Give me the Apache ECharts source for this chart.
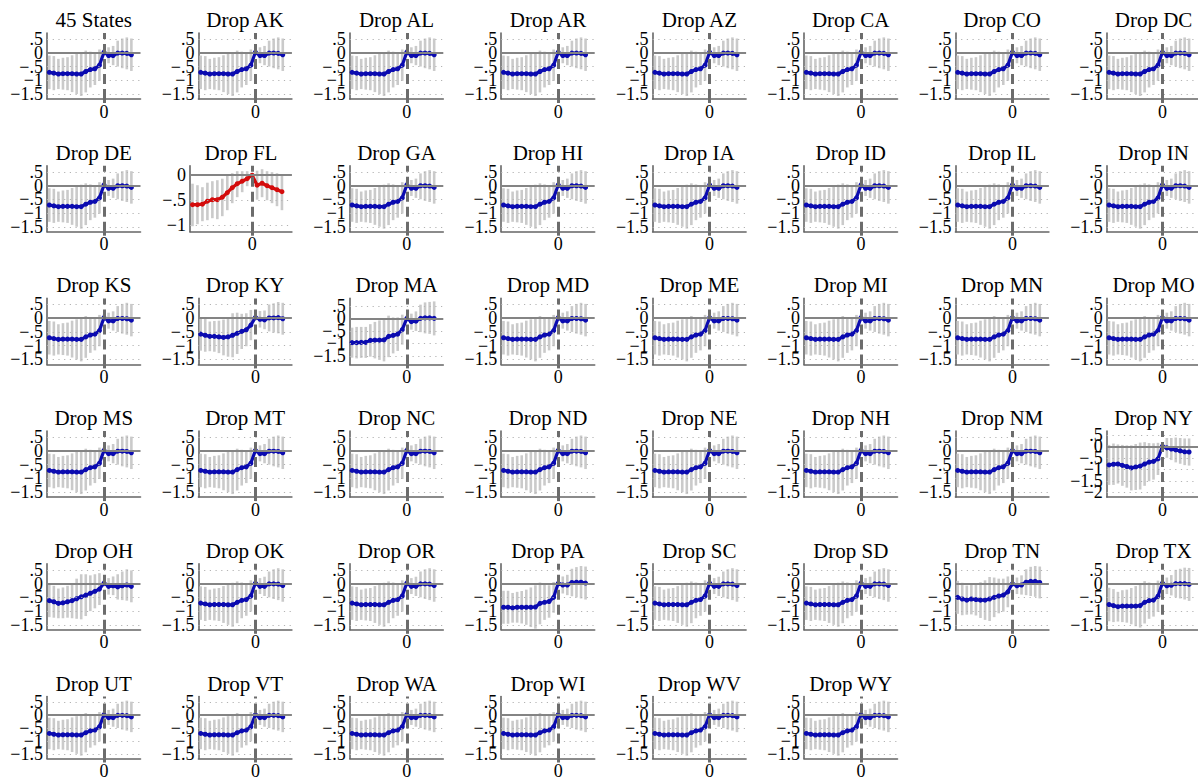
<!DOCTYPE html>
<html>
<head>
<meta charset="utf-8">
<script src="https://cdn.jsdelivr.net/npm/echarts@6/dist/echarts.min.js"></script>
<style>
  html, body { margin: 0; padding: 0; background: #fff; }
  #chart { width: 1198px; height: 780px; }
</style>
</head>
<body>
<div id="chart"></div>
<script>
// Event time (years relative to the policy change)
const eventTime = [-12, -11, -10, -9, -8, -7, -6, -5, -4, -3, -2, -1, 0, 1, 2, 3, 4, 5, 6];

// Panel order: pooled sample first, then leave-one-state-out estimates
const droppedStates = ['AK','AL','AR','AZ','CA','CO','DC','DE','FL','GA','HI','IA','ID','IL','IN',
  'KS','KY','MA','MD','ME','MI','MN','MO','MS','MT','NC','ND','NE','NH','NM','NY',
  'OH','OK','OR','PA','SC','SD','TN','TX','UT','VT','WA','WI','WV','WY'];

// Tick labels on the y axis
const yTicksStd = [-1.5, -1, -0.5, 0, 0.5];
const yTicksFL  = [-1, -0.5, 0];
const yTicksNY  = [-2, -1.5, -1, -0.5, 0, 0.5];
const xTicks    = [0];

// Pooled estimates (also what most leave-one-out samples look like)
const pooledEst = [-0.71, -0.74, -0.77, -0.76, -0.76, -0.76, -0.77, -0.77, -0.68, -0.61, -0.58, -0.45, 0.02, -0.10, -0.10, -0.01, -0.01, -0.02, -0.07];
const pooledLo  = [-1.32, -1.36, -1.32, -1.34, -1.36, -1.43, -1.50, -1.57, -1.44, -1.26, -1.17, -1.02, -0.10, -0.38, -0.45, -0.50, -0.56, -0.60, -0.66];
const pooledHi  = [-0.10, -0.12, -0.22, -0.18, -0.16, -0.09, -0.04, 0.03, 0.08, 0.04, 0.01, 0.12, 0.14, 0.20, 0.25, 0.44, 0.52, 0.56, 0.52];

// Drop FL
const flEst = [-0.59, -0.59, -0.58, -0.52, -0.49, -0.49, -0.44, -0.35, -0.25, -0.17, -0.12, -0.07, 0.00, -0.20, -0.16, -0.21, -0.25, -0.29, -0.33];
const flLo  = [-1.02, -0.98, -0.92, -0.90, -0.86, -0.88, -0.82, -0.70, -0.56, -0.44, -0.34, -0.22, -0.04, -0.49, -0.44, -0.50, -0.56, -0.62, -0.70];
const flHi  = [-0.17, -0.20, -0.24, -0.15, -0.12, -0.10, -0.07, 0.00, 0.04, 0.08, 0.08, 0.08, 0.04, 0.09, 0.12, 0.08, 0.06, 0.04, 0.02];

// Drop NY
const nyEst = [-0.81, -0.78, -0.77, -0.83, -0.88, -0.94, -0.90, -0.86, -0.77, -0.69, -0.66, -0.55, 0.00, -0.07, -0.12, -0.16, -0.20, -0.24, -0.25];
const nyLo  = [-1.68, -1.68, -1.62, -1.72, -1.80, -1.92, -1.90, -1.88, -1.72, -1.52, -1.45, -1.25, -0.12, -0.50, -0.60, -0.70, -0.76, -0.82, -0.84];
const nyHi  = [0.06, 0.12, 0.08, 0.06, 0.04, 0.04, 0.10, 0.16, 0.18, 0.14, 0.13, 0.15, 0.12, 0.36, 0.36, 0.38, 0.36, 0.34, 0.34];

// Drop MA
const maEst = [-0.97, -0.97, -0.96, -0.96, -0.88, -0.87, -0.87, -0.86, -0.72, -0.68, -0.63, -0.45, 0.00, -0.13, -0.11, 0.00, 0.02, 0.02, 0.00];
const maLo  = [-1.57, -1.60, -1.58, -1.58, -1.53, -1.60, -1.66, -1.72, -1.55, -1.40, -1.30, -1.05, -0.12, -0.45, -0.50, -0.55, -0.60, -0.62, -0.68];
const maHi  = [-0.37, -0.34, -0.34, -0.34, -0.23, -0.14, -0.08, 0.00, 0.11, 0.04, 0.04, 0.15, 0.12, 0.19, 0.28, 0.55, 0.64, 0.66, 0.68];

// Drop KY
const kyEst = [-0.58, -0.62, -0.66, -0.66, -0.68, -0.70, -0.68, -0.62, -0.55, -0.48, -0.42, -0.25, 0.03, -0.04, -0.06, 0.01, 0.01, 0.02, -0.02];
const kyLo  = [-1.18, -1.22, -1.20, -1.22, -1.27, -1.35, -1.40, -1.42, -1.30, -1.12, -1.02, -0.80, -0.08, -0.34, -0.40, -0.48, -0.52, -0.55, -0.60];
const kyHi  = [0.02, -0.02, -0.12, -0.10, -0.09, -0.05, 0.04, 0.18, 0.20, 0.16, 0.18, 0.30, 0.14, 0.26, 0.28, 0.50, 0.54, 0.59, 0.56];

// Drop OH
const ohEst = [-0.62, -0.66, -0.72, -0.70, -0.66, -0.62, -0.55, -0.48, -0.42, -0.35, -0.28, -0.20, 0.02, -0.10, -0.08, -0.12, -0.08, -0.05, -0.10];
const ohLo  = [-1.22, -1.24, -1.26, -1.26, -1.24, -1.26, -1.28, -1.30, -1.18, -1.00, -0.90, -0.78, -0.10, -0.40, -0.42, -0.58, -0.60, -0.62, -0.68];
const ohHi  = [-0.02, -0.08, -0.18, -0.14, -0.08, 0.02, 0.18, 0.34, 0.34, 0.30, 0.34, 0.38, 0.14, 0.20, 0.26, 0.34, 0.44, 0.52, 0.48];

// Drop PA
const paEst = [-0.86, -0.86, -0.88, -0.86, -0.86, -0.86, -0.86, -0.85, -0.72, -0.68, -0.65, -0.50, 0.01, -0.05, -0.05, 0.04, 0.05, 0.05, 0.02];
const paLo  = [-1.46, -1.46, -1.42, -1.42, -1.45, -1.50, -1.58, -1.64, -1.48, -1.32, -1.24, -1.06, -0.10, -0.36, -0.42, -0.46, -0.50, -0.54, -0.58];
const paHi  = [-0.26, -0.26, -0.34, -0.30, -0.27, -0.22, -0.14, -0.06, 0.04, -0.04, -0.06, 0.06, 0.12, 0.26, 0.32, 0.54, 0.60, 0.64, 0.62];

// Drop TN
const tnEst = [-0.50, -0.56, -0.60, -0.56, -0.58, -0.60, -0.60, -0.56, -0.50, -0.45, -0.42, -0.30, 0.00, -0.08, -0.05, 0.05, 0.08, 0.08, 0.04];
const tnLo  = [-1.10, -1.15, -1.13, -1.12, -1.16, -1.25, -1.32, -1.36, -1.22, -1.08, -1.02, -0.86, -0.12, -0.38, -0.40, -0.42, -0.45, -0.48, -0.54];
const tnHi  = [0.10, 0.03, -0.07, 0.00, 0.00, 0.05, 0.12, 0.24, 0.22, 0.18, 0.18, 0.26, 0.12, 0.22, 0.30, 0.52, 0.61, 0.64, 0.62];

// Drop TX
const txEst = [-0.76, -0.80, -0.84, -0.82, -0.82, -0.82, -0.82, -0.80, -0.68, -0.62, -0.60, -0.46, 0.02, -0.08, -0.06, 0.00, 0.00, 0.00, -0.03];
const txLo  = [-1.37, -1.40, -1.38, -1.40, -1.42, -1.48, -1.55, -1.60, -1.45, -1.28, -1.20, -1.03, -0.10, -0.38, -0.43, -0.50, -0.54, -0.58, -0.63];
const txHi  = [-0.15, -0.20, -0.30, -0.24, -0.22, -0.16, -0.09, 0.00, 0.09, 0.04, 0.00, 0.11, 0.14, 0.22, 0.31, 0.50, 0.54, 0.58, 0.57];

const fitsByState = {
  FL: [flEst, flLo, flHi],
  NY: [nyEst, nyLo, nyHi],
  MA: [maEst, maLo, maHi],
  KY: [kyEst, kyLo, kyHi],
  OH: [ohEst, ohLo, ohHi],
  PA: [paEst, paLo, paHi],
  TN: [tnEst, tnLo, tnHi],
  TX: [txEst, txLo, txHi]
};
const pooledFit = [pooledEst, pooledLo, pooledHi];

// ---- layout and styling ----
const COL_PITCH = 151.4, ROW_PITCH = 132.7;
const PLOT_TOP = 33, PLOT_H = 66, PLOT_RIGHT = 140.5;
const SERIF = 'Liberation Serif';
const BLUE = '#0b0bb0', RED = '#d40c0c';
const CI_GREY = '#cacaca', AXIS_GREY = '#666666', ZERO_GREY = '#848484', EVENT_GREY = '#6c6c6c', GRID_GREY = '#b3b3b3';

const yAxisRange = {
  std: [-1.68, 0.72],
  FL: [-1.13, 0.19],
  NY: [-2.21, 0.66],
  MA: [-1.84, 0.80]
};

function tickText(v) {
  if (v === 0) return '0';
  const s = String(Math.abs(v)).replace(/^0\./, '.');
  return (v < 0 ? '\u2212' : '') + s;
}

const panels = [{ title: '45 States', key: null }]
  .concat(droppedStates.map(s => ({ title: 'Drop ' + s, key: s })));

const grids = [], xAxes = [], yAxes = [], series = [], texts = [];

panels.forEach((p, i) => {
  const r = Math.floor(i / 8), c = i % 8;
  const x0 = c * COL_PITCH;
  const top = PLOT_TOP + r * ROW_PITCH;
  const left = x0 + (p.key === 'FL' ? 38.6 : 47);
  const right = x0 + PLOT_RIGHT;
  const [est, lo, hi] = fitsByState[p.key] || pooledFit;
  const range = yAxisRange[p.key] || yAxisRange.std;
  const ticks = p.key === 'FL' ? yTicksFL : (p.key === 'NY' ? yTicksNY : yTicksStd);
  const lineColor = p.key === 'FL' ? RED : BLUE;
  const yIdx = 2 * i;

  grids.push({ left: left, top: top, width: right - left, height: PLOT_H, containLabel: false });

  xAxes.push({
    type: 'value', gridIndex: i, min: -12.5, max: 8.0,
    axisLine: { show: true, onZero: false, lineStyle: { color: AXIS_GREY, width: 1.6 } },
    axisTick: { show: true, customValues: xTicks, length: 4, lineStyle: { color: EVENT_GREY, width: 3 } },
    axisLabel: { show: true, customValues: xTicks, formatter: tickText, margin: 3.5,
      showMinLabel: true, showMaxLabel: true,
      fontFamily: SERIF, fontSize: 18, color: '#000' },
    splitLine: { show: false }
  });

  // The labels sit closer together than their text boxes, so they are
  // spread over two coincident y axes (alternate ticks on each).
  const labelSets = [ticks.filter((v, k) => k % 2 === 0), ticks.filter((v, k) => k % 2 === 1)];
  labelSets.forEach((vals, k) => {
    yAxes.push({
      type: 'value', gridIndex: i, min: range[0], max: range[1], position: 'left',
      axisLine: { show: k === 0, onZero: false, lineStyle: { color: AXIS_GREY, width: 1.6 } },
      axisTick: { show: false, customValues: vals },
      axisLabel: { show: true, customValues: vals, formatter: tickText, margin: 4,
        showMinLabel: true, showMaxLabel: true, hideOverlap: false,
        fontFamily: SERIF, fontSize: 18, color: '#000' },
      splitLine: { show: false }
    });
  });

  const points = eventTime.map((t, k) => [t, est[k]]);

  // dotted gridlines at the labelled y values
  series.push({
    type: 'line', xAxisIndex: i, yAxisIndex: yIdx, data: points, z: 1,
    silent: true, symbol: 'none', lineStyle: { opacity: 0 },
    markLine: {
      silent: true, symbol: 'none', label: { show: false }, animation: false,
      lineStyle: { color: GRID_GREY, width: 1.2, type: [1.2, 4.5] },
      data: ticks.filter(v => v !== 0).map(v => ({ yAxis: v }))
    }
  });

  // confidence-interval spikes
  series.push({
    type: 'custom', xAxisIndex: i, yAxisIndex: yIdx, z: 2, silent: true,
    data: eventTime.map((t, k) => [t, lo[k], hi[k]]),
    encode: { x: 0, y: [1, 2] },
    renderItem: function (params, api) {
      const a = api.coord([api.value(0), api.value(1)]);
      const b = api.coord([api.value(0), api.value(2)]);
      return { type: 'line', shape: { x1: a[0], y1: a[1], x2: b[0], y2: b[1] },
        style: { stroke: CI_GREY, lineWidth: 2.6 } };
    }
  });

  // zero line and event-date line
  series.push({
    type: 'line', xAxisIndex: i, yAxisIndex: yIdx, data: points, z: 3,
    silent: true, symbol: 'none', lineStyle: { opacity: 0 },
    markLine: {
      silent: true, symbol: 'none', label: { show: false }, animation: false,
      data: [
        { yAxis: 0, lineStyle: { color: ZERO_GREY, width: 2, type: 'solid' } },
        { xAxis: 0, lineStyle: { color: EVENT_GREY, width: 3, type: [10, 5] } }
      ]
    }
  });

  // point estimates
  series.push({
    type: 'line', xAxisIndex: i, yAxisIndex: yIdx, data: points, z: 4,
    symbol: 'circle', symbolSize: 5, showSymbol: true,
    lineStyle: { color: lineColor, width: 3.2 },
    itemStyle: { color: lineColor }
  });

  texts.push({
    type: 'text', x: (left + right) / 2, y: top - 13, silent: true,
    style: { text: p.title, fill: '#000', fontFamily: SERIF, fontSize: 21, align: 'center', verticalAlign: 'middle' }
  });
});

const chart = echarts.init(document.getElementById('chart'), null, { renderer: 'svg' });
chart.setOption({
  animation: false,
  backgroundColor: '#ffffff',
  grid: grids,
  xAxis: xAxes,
  yAxis: yAxes,
  series: series,
  graphic: { elements: texts }
});
</script>
</body>
</html>
